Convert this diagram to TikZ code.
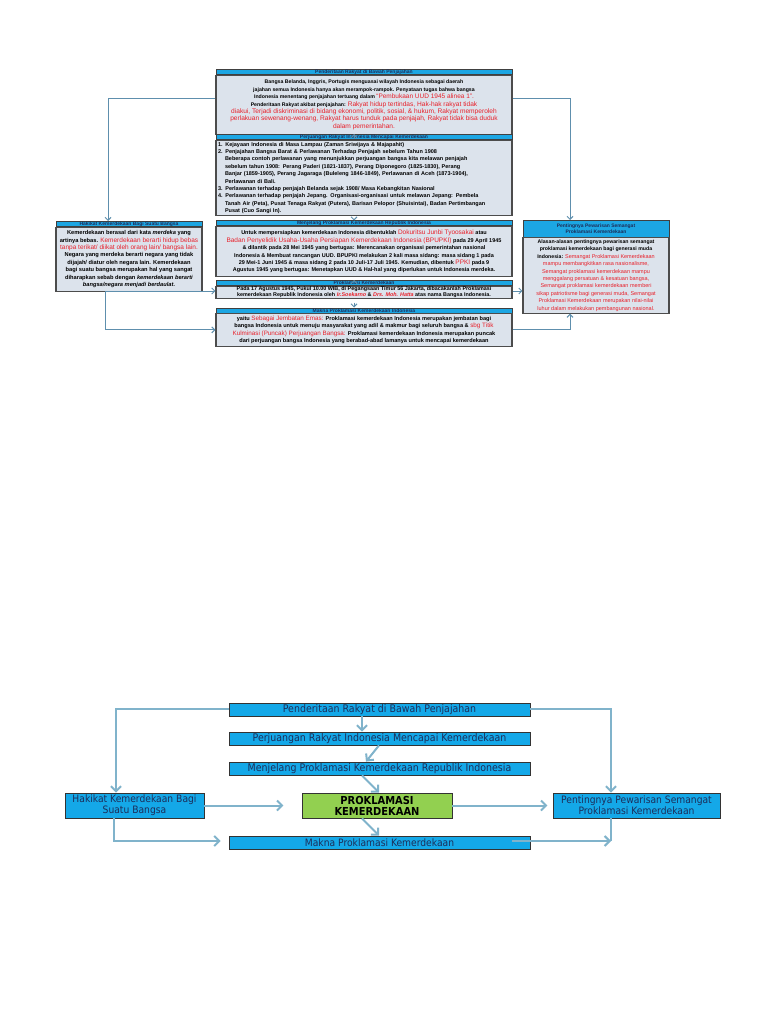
\documentclass[tikz,border=0pt]{standalone}
\usepackage{fontspec}
\setmainfont{Liberation Sans}
\newfontfamily\condfont[FakeStretch=0.9]{DejaVu Sans}
\usetikzlibrary{positioning,arrows.meta}

\definecolor{headblue}{HTML}{1CA6E3}
\definecolor{boxblue}{HTML}{14A8E8}
\definecolor{panelgray}{HTML}{DCE3EC}
\definecolor{alertred}{HTML}{E8202A}
\definecolor{textnavy}{HTML}{1C2E5A}
\definecolor{linkblue}{HTML}{80B3CB}
\definecolor{thinlink}{HTML}{5E8FAD}
\definecolor{keygreen}{HTML}{92D050}

\newcommand{\tinytxt}[1][5.4]{\fontsize{#1}{7.4}\selectfont\bfseries}
\newcommand{\hdrtxt}{\fontsize{5}{5}\selectfont\bfseries}
\newcommand{\rd}[2][6.5]{{\color{alertred}\mdseries\fontsize{#1}{7.4}\selectfont#2}}
\newcommand{\condsz}[1]{\condfont\fontsize{#1}{11}\selectfont}

\begin{document}
\begin{tikzpicture}[x=1pt,y=-1pt,
  hdr/.style={draw=black!75,line width=0.6pt,fill=headblue,inner sep=0pt,
    minimum height=5,text=textnavy,font=\hdrtxt,anchor=north,align=center},
  panel/.style={draw=black!70,line width=1.1pt,fill=panelgray,inner sep=2pt,
    align=center,font=\tinytxt,anchor=north},
  bluebox/.style={draw=black!80,line width=0.8pt,fill=boxblue,inner sep=1pt,
    text=textnavy,font=\condsz{10.5},align=center},
  tlink/.style={thinlink,line width=1pt,-{Straight Barb[length=3pt,width=6pt]}},
  link/.style={linkblue,line width=2pt,-{Straight Barb[length=5pt,width=10pt]}}]
\useasboundingbox[fill=white] (0,0) rectangle (768,1024);

% ---- detailed chart
\node[hdr,minimum width=296] (h1) at (364,69.5) {Penderitaan Rakyat di Bawah Penjajahan};
\node[panel,minimum width=296,minimum height=58.5,below=0pt of h1,font={\tinytxt[5.2]}] (b1) {%
Bangsa Belanda, Inggris, Portugis menguasai wilayah Indonesia sebagai daerah\\
jajahan semua Indonesia hanya akan merampok-rampok. Penyataan tugas bahwa bangsa\\
Indonesia menentang penjajahan tertuang dalam \rd{``Pembukaan UUD 1945 alinea 1''.}\\
Penderitaan Rakyat akibat penjajahan: \rd[6.6]{Rakyat hidup tertindas, Hak-hak rakyat tidak}\\
\rd[6.6]{diakui, Terjadi diskriminasi di bidang ekonomi, politik, sosial, \& hukum, Rakyat memperoleh}\\
\rd[6.6]{perlakuan sewenang-wenang, Rakyat harus tunduk pada penjajah, Rakyat tidak bisa duduk}\\
\rd[6.6]{dalam pemerintahan.}};

\node[hdr,minimum width=296] (h2) at (364,134) {Perjuangan Rakyat Indonesia Mencapai Kemerdekaan};
\node[panel,minimum width=296,minimum height=72.5,below=0pt of h2,text width=292,align=left,font={\tinytxt[5.5]}] (b2) {%
1. Kejayaan Indonesia di Masa Lampau (Zaman Sriwijaya \& Majapahit)\\
2. Penjajahan Bangsa Barat \& Perlawanan Terhadap Penjajah sebelum Tahun 1908\\
\hspace*{7pt}Beberapa contoh perlawanan yang menunjukkan perjuangan bangsa kita melawan penjajah\\
\hspace*{7pt}sebelum tahun 1908: Perang Paderi (1821-1837), Perang Diponegoro (1825-1830), Perang\\
\hspace*{7pt}Banjar (1859-1905), Perang Jagaraga (Buleleng 1846-1849), Perlawanan di Aceh (1873-1904),\\
\hspace*{7pt}Perlawanan di Bali.\\
3. Perlawanan terhadap penjajah Belanda sejak 1908/ Masa Kebangkitan Nasional\\
4. Perlawanan terhadap penjajah Jepang. Organisasi-organisasi untuk melawan Jepang: Pembela\\
\hspace*{7pt}Tanah Air (Peta), Pusat Tenaga Rakyat (Putera), Barisan Pelopor (Shuisintai), Badan Pertimbangan\\
\hspace*{7pt}Pusat (Cuo Sangi In).};

\node[hdr,minimum width=296] (h3) at (364,220.5) {Menjelang Proklamasi Kemerdekaan Republik Indonesia};
\node[panel,minimum width=296,minimum height=50,below=0pt of h3,font={\tinytxt[5.5]}] (b3) {%
Untuk mempersiapkan kemerdekaan Indonesia dibentuklah \rd{Dokuritsu Junbi Tyoosakai} atau\\
\rd{Badan Penyelidik Usaha-Usaha Persiapan Kemerdekaan Indonesia (BPUPKI)} pada 29 April 1945\\
\& dilantik pada 28 Mei 1945 yang bertugas: Merencanakan organisasi pemerintahan nasional\\
Indonesia \& Membuat rancangan UUD. BPUPKI melakukan 2 kali masa sidang: masa sidang 1 pada\\
29 Mei-1 Juni 1945 \& masa sidang 2 pada 10 Juli-17 Juli 1945. Kemudian, dibentuk \rd{PPKI} pada 9\\
Agustus 1945 yang bertugas: Menetapkan UUD \& Hal-hal yang diperlukan untuk Indonesia merdeka.};

\node[hdr,minimum width=296] (h4) at (364,280) {Proklamasi Kemerdekaan};
\node[panel,minimum width=296,minimum height=12,below=0pt of h4,inner sep=0pt,font={\fontsize{5.4}{5.6}\selectfont\bfseries}] (b4) {%
Pada 17 Agustus 1945, Pukul 10.00 WIB, di Pegangsaan Timur 56 Jakarta, dibacakanlah Proklamasi\\
kemerdekaan Republik Indonesia oleh {\color{alertred}\itshape Ir.Soekarno} \& {\color{alertred}\itshape Drs. Moh. Hatta} atas nama Bangsa Indonesia.};

\node[hdr,minimum width=296] (h5) at (364,307.5) {Makna Proklamasi Kemerdekaan Indonesia};
\node[panel,minimum width=296,minimum height=32.5,below=0pt of h5,font={\tinytxt[5.6]}] (b5) {%
yaitu \rd[6.3]{Sebagai Jembatan Emas:} Proklamasi kemerdekaan Indonesia merupakan jembatan bagi\\
bangsa Indonesia untuk menuju masyarakat yang adil \& makmur bagi seluruh bangsa \& \rd[6.3]{sbg Titik}\\
\rd[6.3]{Kulminasi (Puncak) Perjuangan Bangsa:} Proklamasi kemerdekaan Indonesia merupakan puncak\\
dari perjuangan bangsa Indonesia yang berabad-abad lamanya untuk mencapai kemerdekaan};

\node[hdr,minimum width=146] (hk) at (129,221) {Hakikat Kemerdekaan Bagi Suatu Bangsa};
\node[panel,minimum width=146,minimum height=64,below=0pt of hk,font={\tinytxt[5.7]}] (hkb) {%
Kemerdekaan berasal dari kata \textit{merdeka} yang\\
artinya bebas. \rd{Kemerdekaan berarti hidup bebas}\\
\rd{tanpa terikat/ diikat oleh orang lain/ bangsa lain.}\\
Negara yang merdeka berarti negara yang tidak\\
dijajah/ diatur oleh negara lain. Kemerdekaan\\
bagi suatu bangsa merupakan hal yang sangat\\
diharapkan sebab dengan \textit{kemerdekaan berarti}\\
\textit{bangsa/negara menjadi berdaulat.}};

\node[hdr,minimum width=146,minimum height=16.5,font=\fontsize{5}{6.5}\selectfont\bfseries] (hp) at (596,220) {Pentingnya Pewarisan Semangat\\Proklamasi Kemerdekaan};
\node[panel,minimum width=146,minimum height=73,below=0pt of hp,font={\tinytxt[5.2]}] (hpb) {%
Alasan-alasan pentingnya pewarisan semangat\\
proklamasi kemerdekaan bagi generasi muda\\
Indonesia: \rd[5.5]{Semangat Proklamasi Kemerdekaan}\\
\rd[5.5]{mampu membangkitkan rasa nasionalisme,}\\
\rd[5.5]{Semangat proklamasi kemerdekaan mampu}\\
\rd[5.5]{menggalang persatuan \& kesatuan bangsa,}\\
\rd[5.5]{Semangat proklamasi kemerdekaan memberi}\\
\rd[5.5]{sikap patriotisme bagi generasi muda, Semangat}\\
\rd[5.5]{Proklamasi Kemerdekaan merupakan nilai-nilai}\\
\rd[5.5]{luhur dalam melakukan pembangunan nasional.}};

% thin connectors
\coordinate (ax) at (354,0);
\coordinate (tl) at (108,99);
\coordinate (tr) at (570,99);
\coordinate (hkfoot) at (105,291);
\draw[tlink] (b1.west |- tl) -- (tl) -- (tl |- hk.north);
\draw[tlink] (b1.east |- tr) -- (tr) -- (tr |- hp.north);
\draw[tlink] ([yshift=-4]b1.south -| ax) -- (h2.north -| ax);
\draw[tlink] ([yshift=-4]b2.south -| ax) -- (h3.north -| ax);
\draw[tlink] ([yshift=-4]b3.south -| ax) -- (h4.north -| ax);
\draw[tlink] ([yshift=-4]b4.south -| ax) -- (h5.north -| ax);
\draw[tlink] (hkfoot) -- (hkfoot -| b4.west);
\draw[tlink] (hkfoot) |- (b5.west);
\draw[tlink] (b4.east |- hkfoot) -- (hkfoot -| hpb.west);
\draw[tlink] (b5.east) -| (hpb.south -| tr);

% ---- overview chart
\node[bluebox,minimum width=301,minimum height=13] (pen) at (379.5,709.5) {Penderitaan Rakyat di Bawah Penjajahan};
\node[bluebox,minimum width=301,minimum height=13] (per) at (379.5,738.5) {Perjuangan Rakyat Indonesia Mencapai Kemerdekaan};
\node[bluebox,minimum width=301,minimum height=13] (men) at (379.5,768.5) {Menjelang Proklamasi Kemerdekaan Republik Indonesia};
\node[bluebox,minimum width=150,minimum height=25,fill=keygreen,text=black,font=\condsz{11}\bfseries] (pro) at (377,805.5) {PROKLAMASI\\KEMERDEKAAN};
\node[bluebox,minimum width=139,minimum height=25,font=\condsz{10.2}] (hak) at (134.5,805.5) {Hakikat Kemerdekaan Bagi\\Suatu Bangsa};
\node[bluebox,minimum width=167,minimum height=25,font=\condsz{10.2}] (pwr) at (636.5,805.5) {Pentingnya Pewarisan Semangat\\Proklamasi Kemerdekaan};
\node[bluebox,minimum width=301,minimum height=13,font=\condsz{10.2}] (mak) at (379.5,842.5) {Makna Proklamasi Kemerdekaan};

\coordinate (bl) at (116,709);
\coordinate (br) at (611,709);
\coordinate (bcorner) at (611,841);
\coordinate (cx1) at (362,0);
\coordinate (cx2) at (379,0);
\coordinate (cx3) at (366,0);
\coordinate (hakfoot) at (114,0);
\draw[link] (pen.west |- bl) -- (bl) -- (bl |- hak.north);
\draw[link] (pen.east |- br) -- (br) -- (br |- pwr.north);
\draw[link] (pen.south -| cx1) -- (per.north -| cx1);
\draw[link] (per.south -| cx2) -- (men.north -| cx3);
\draw[link] (men.south -| cx1) -- (pro.north -| cx2);
\draw[link] (pro.south -| cx1) -- (mak.north -| cx2);
\draw[link] (hak.east) -- ++(79,0);
\draw[link] (pro.east) -- ++(95,0);
\draw[link] (hak.south -| hakfoot) |- ([xshift=-8]mak.west |- bcorner);
\draw[link] ([xshift=-18]mak.east |- bcorner) -- (bcorner);
\draw[linkblue,line width=2pt] (pwr.south -| bcorner) -- (bcorner);
\end{tikzpicture}
\end{document}
